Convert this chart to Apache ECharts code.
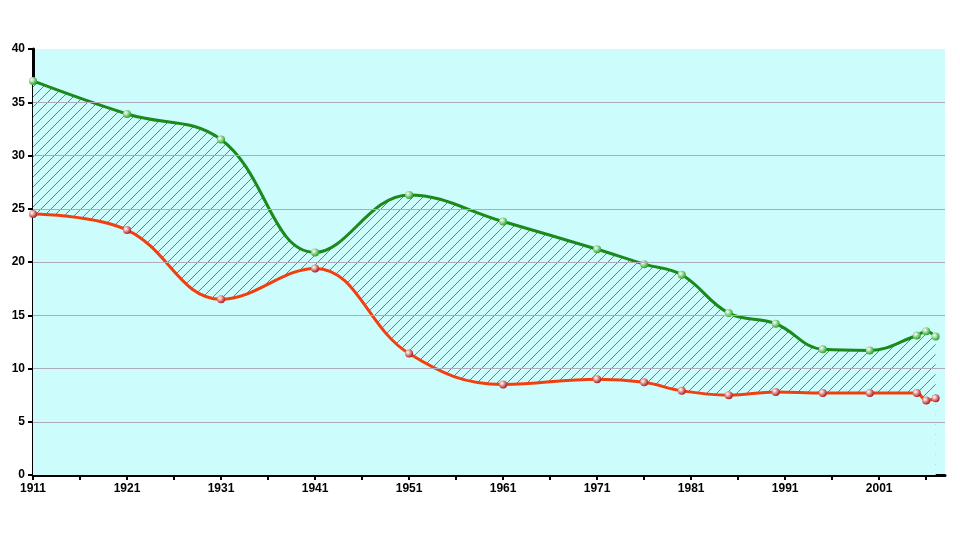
<!DOCTYPE html><html><head><meta charset="utf-8"><script src="https://cdn.jsdelivr.net/npm/echarts@6/dist/echarts.min.js"></script></head><body style="margin:0"><div id="c" style="width:960px;height:535px"></div><script>
const years=[1911,1921,1931,1941,1951,1961,1971,1976,1980,1985,1990,1995,2000,2005,2006,2007];
const green=[37,33.9,31.5,20.9,26.3,23.8,21.2,19.8,18.8,15.2,14.2,11.8,11.7,13.1,13.5,13.0];
const red=[24.5,23.0,16.5,19.4,11.4,8.5,9.0,8.7,7.9,7.5,7.8,7.7,7.7,7.7,7.0,7.2];
const labelYears=[1911,1921,1931,1941,1951,1961,1971,1981,1991,2001];
const gridValues=[5,10,15,20,25,30,35];
const tickYears=[];for(let y=1911;y<=2008;y+=5)tickYears.push(y);
const cv=document.createElement('canvas');cv.width=10;cv.height=10;const g=cv.getContext('2d');
g.fillStyle='#ccfcfc';g.fillRect(0,0,10,10);
g.strokeStyle='#2a7a2a';g.lineWidth=0.8;g.beginPath();g.moveTo(0,10);g.lineTo(10,0);g.moveTo(-5,5);g.lineTo(5,-5);g.moveTo(5,15);g.lineTo(15,5);g.stroke();
const sphere=c=>({type:'radial',x:0.35,y:0.35,r:0.7,colorStops:[{offset:0,color:'#fff'},{offset:1,color:c}]});
const chart=echarts.init(document.getElementById('c'));
chart.setOption({animation:false,
grid:{left:33,right:15,top:49,bottom:60,show:true,backgroundColor:'#ccfcfc',borderWidth:0},
xAxis:{type:'value',min:1911,max:2008,axisLine:{lineStyle:{color:'#000',width:3}},
axisTick:{customValues:tickYears,length:5,lineStyle:{color:'#000',width:2}},
axisLabel:{customValues:labelYears,formatter:v=>String(v),color:'#000',fontWeight:'bold',fontSize:12,fontFamily:'Arial'},splitLine:{show:false}},
yAxis:{type:'value',min:0,max:40,interval:5,axisLine:{show:true,lineStyle:{color:'#000',width:3}},
axisTick:{show:true,length:5,lineStyle:{color:'#000',width:2}},
axisLabel:{color:'#000',fontWeight:'bold',fontSize:12,fontFamily:'Arial'},splitLine:{show:false}},
series:[
{type:'line',data:years.map((y,i)=>[y,green[i]]),smooth:0.4,symbol:'none',lineStyle:{width:0},areaStyle:{color:{image:cv,repeat:'repeat'},opacity:1},z:1},
{type:'line',data:years.map((y,i)=>[y,red[i]]),smooth:0.4,symbol:'none',lineStyle:{width:0},areaStyle:{color:'#ccfcfc',opacity:1},z:1,
 markLine:{silent:true,symbol:'none',label:{show:false},lineStyle:{color:'#aab',type:'solid',width:1},data:gridValues.map(v=>({yAxis:v}))}},
{type:'line',data:years.map((y,i)=>[y,green[i]]),smooth:0.4,symbol:'circle',symbolSize:8,lineStyle:{color:'#1a8a1a',width:3},itemStyle:{color:sphere('#1aa01a'),borderWidth:0},z:3},
{type:'line',data:years.map((y,i)=>[y,red[i]]),smooth:0.4,symbol:'circle',symbolSize:8,lineStyle:{color:'#f04010',width:3},itemStyle:{color:sphere('#b01010'),borderWidth:0},z:3}
]});
</script></body></html>
